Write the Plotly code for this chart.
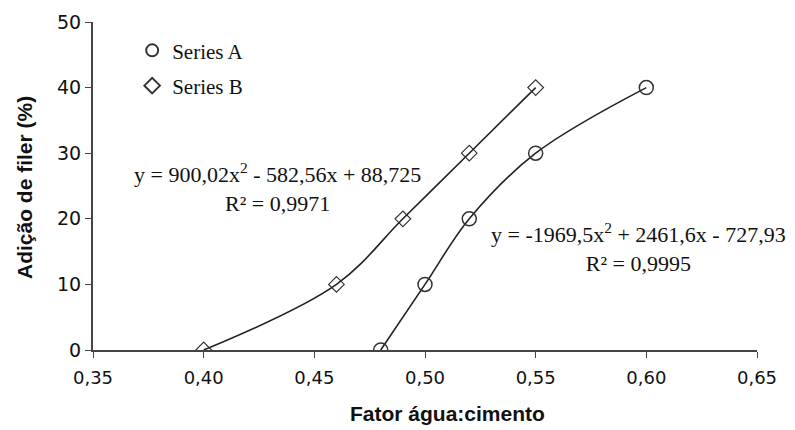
import plotly.graph_objects as go

x_a = [0.48, 0.50, 0.52, 0.55, 0.60]
y_a = [0, 10, 20, 30, 40]
x_b = [0.40, 0.46, 0.49, 0.52, 0.55]
y_b = [0, 10, 20, 30, 40]
x_ticks = [0.35, 0.40, 0.45, 0.50, 0.55, 0.60, 0.65]
y_ticks = [0, 10, 20, 30, 40, 50]

fig = go.Figure()
# trend lines (smooth curves through the data)
for xs, ys in [(x_a, y_a), (x_b, y_b)]:
    fig.add_trace(go.Scatter(
        x=xs, y=ys, mode="lines", showlegend=False, hoverinfo="skip",
        line=dict(color="#222222", width=1.6, shape="spline", smoothing=1.0),
    ))
fig.add_trace(go.Scatter(
    x=x_a, y=y_a, mode="markers", name="Series A", legendgroup="a",
    marker=dict(symbol="circle-open", size=14, color="#333333", line=dict(width=1.5)),
))
fig.add_trace(go.Scatter(
    x=x_b, y=y_b, mode="markers", name="Series B", legendgroup="b",
    marker=dict(symbol="diamond-open", size=12, color="#333333", line=dict(width=1.2)),
))

serif = "Liberation Serif, Times New Roman, serif"
sans = "Liberation Sans, Arial"
fig.add_annotation(x=0.4333, y=24.8, text="y = 900,02x<sup>2</sup> - 582,56x + 88,725<br>R² = 0,9971",
                   showarrow=False, font=dict(family=serif, size=22, color="#111"), align="center")
fig.add_annotation(x=0.5966, y=15.7, text="y = -1969,5x<sup>2</sup> + 2461,6x - 727,93<br>R² = 0,9995",
                   showarrow=False, font=dict(family=serif, size=22, color="#111"), align="center")
fig.add_annotation(xref="paper", yref="paper", x=(447 - 93) / 664, y=-(413 - 350) / 328,
                   xanchor="center", yanchor="middle",
                   text="<b>Fator água:cimento</b>", showarrow=False,
                   font=dict(family=sans, size=21, color="#111"))
fig.add_annotation(xref="paper", yref="paper", x=-(93 - 24) / 664, y=(350 - 188) / 328,
                   xanchor="center", yanchor="middle",
                   text="<b>Adição de filer (%)</b>", showarrow=False, textangle=-90,
                   font=dict(family=sans, size=21, color="#111"))

fig.update_layout(
    width=795, height=430,
    margin=dict(l=93, r=38, t=22, b=80),
    paper_bgcolor="white", plot_bgcolor="white",
    separators=",.",
    showlegend=True,
    legend=dict(x=0.059, y=0.975, xanchor="left", yanchor="top",
                font=dict(family=serif, size=21, color="#111"),
                bgcolor="rgba(0,0,0,0)", itemwidth=30, tracegroupgap=5,
                itemsizing="constant"),
    xaxis=dict(range=[0.35, 0.65], tickvals=x_ticks, tickformat=".2f",
               showgrid=False, zeroline=False, showline=True, linecolor="#444", linewidth=2,
               ticks="outside", ticklen=6, tickcolor="#444", ticklabelstandoff=4,
               tickfont=dict(family="DejaVu Sans", size=18, color="#111")),
    yaxis=dict(range=[0, 50], tickvals=y_ticks,
               showgrid=False, zeroline=False, showline=True, linecolor="#444", linewidth=2,
               ticks="outside", ticklen=6, tickcolor="#444",
               tickfont=dict(family="DejaVu Sans", size=19, color="#111")),
)

fig.write_html("out.html")
